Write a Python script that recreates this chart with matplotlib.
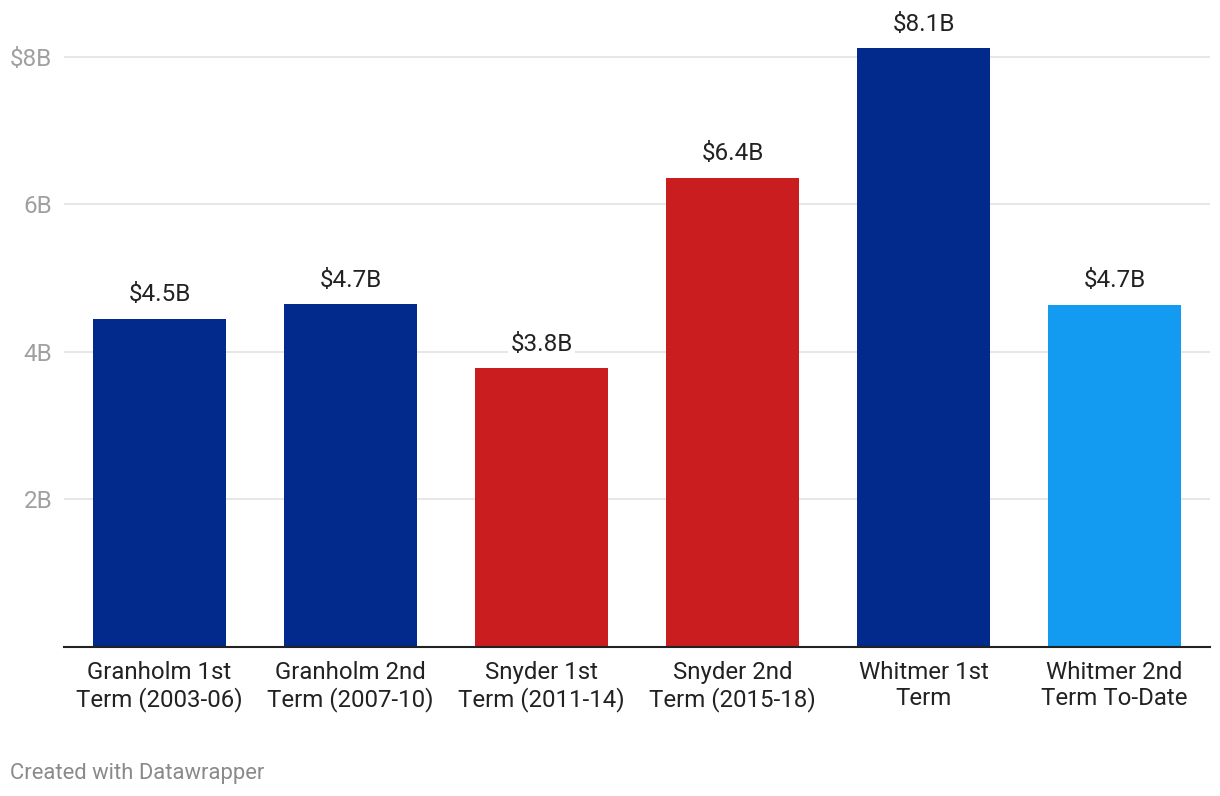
import matplotlib.pyplot as plt

plt.rcParams['font.family'] = ['Roboto', 'DejaVu Sans']

terms = ['Granholm 1st\nTerm (2003-06)', 'Granholm 2nd\nTerm (2007-10)',
         'Snyder 1st\nTerm (2011-14)', 'Snyder 2nd\nTerm (2015-18)',
         'Whitmer 1st\nTerm', 'Whitmer 2nd\nTerm To-Date']
values = [4.45, 4.65, 3.78, 6.36, 8.12, 4.64]
value_labels = ['$4.5B', '$4.7B', '$3.8B', '$6.4B', '$8.1B', '$4.7B']
colors = ['#012a8c', '#012a8c', '#c91d1f', '#c91d1f', '#012a8c', '#129bf0']
y_ticks = [2, 4, 6, 8]
y_tick_labels = ['2B', '4B', '6B', '$8B']

fig = plt.figure(figsize=(12.2, 7.96), dpi=100)
ax = fig.add_axes([64 / 1220, 1 - 647 / 796, 1146 / 1220, (647 - 20.1) / 796])

x = range(len(terms))
bars = ax.bar(x, values, width=0.696, color=colors, zorder=2)

for b, lab in zip(bars, value_labels):
    ax.annotate(lab, (b.get_x() + b.get_width() / 2, b.get_height()),
                xytext=(0, 9), textcoords='offset points', ha='center', va='bottom',
                fontsize=17.5, color='#222222', zorder=3,
                bbox=dict(boxstyle='square,pad=0.1', fc='white', ec='none'))

ax.set_xlim(-0.5, 5.5)
ax.set_ylim(0, 8.5)
ax.set_yticks(y_ticks)
ax.set_yticklabels(y_tick_labels)
ax.set_xticks(list(x))
ax.set_xticklabels(terms, linespacing=1.15)
ax.tick_params(axis='y', length=0, pad=8.5, labelsize=17.5, labelcolor='#a0a0a0')
ax.tick_params(axis='x', length=0, pad=10, labelsize=17.3, labelcolor='#222222')
ax.yaxis.grid(True, color='#e3e3e3', linewidth=1.2, zorder=0)
ax.set_axisbelow(True)

for s in ['top', 'right', 'left']:
    ax.spines[s].set_visible(False)
ax.spines['bottom'].set_color('#222222')
ax.spines['bottom'].set_linewidth(1.5)
ax.spines['bottom'].set_zorder(4)

fig.text(10 / 1220, 1 - 774 / 796, 'Created with Datawrapper', fontsize=15.8,
         color='#8a8a8a', ha='left', va='center')

fig.savefig('out.png', dpi=100)
